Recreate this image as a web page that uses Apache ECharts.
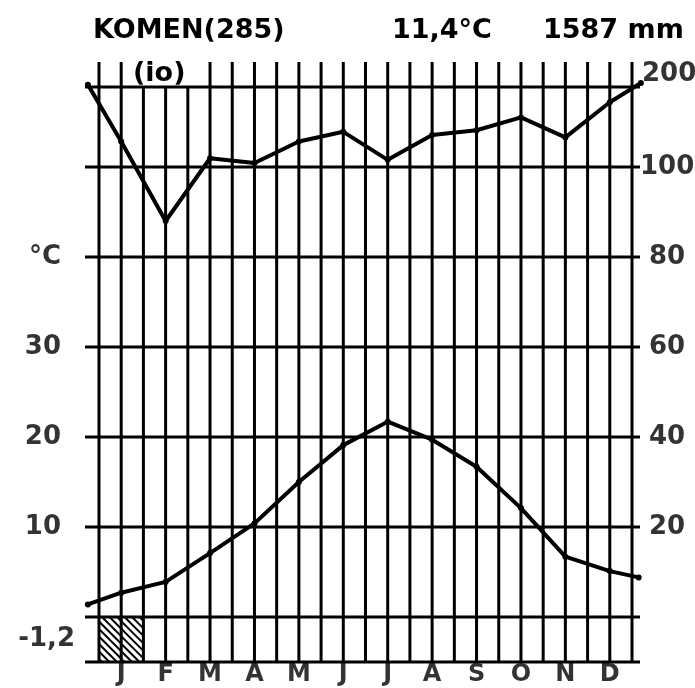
<!DOCTYPE html>
<html>
<head>
<meta charset="utf-8">
<script src="https://cdn.jsdelivr.net/npm/echarts@6/dist/echarts.min.js"></script>
<style>
  html, body { margin: 0; padding: 0; background: #fff; }
  #main { width: 695px; height: 688px; }
</style>
</head>
<body>
<div id="main"></div>
<script>
// Komen (285 m) climate diagram
var months = ['J', 'F', 'M', 'A', 'M', 'J', 'J', 'A', 'S', 'O', 'N', 'D'];
var tempC = [2.7, 3.9, 7.1, 10.4, 15.0, 19.1, 21.7, 19.7, 16.7, 12.1, 6.7, 5.1];
var precipMm = [132, 88, 111, 105, 132, 144, 109, 140, 146, 162, 137, 181];
// the curves run a little past jan and dec
var tempEnds = [1.4, 4.4];
var precipEnds = [203, 205];
var frostMonths = [0];
var tempTicks = [-2.5, 10, 20, 30, 40];
var tempTickLabels = ['-1,2', '10', '20', '30', '°C'];
var precipTicks = [20, 40, 60, 80, 100, 200];

var FONT = 'DejaVu Sans';

// precip -> chart units: 20 mm = 10 °C up to 100 mm, compressed above
function pScale(p) {
  return p <= 100 ? p / 2 : 50 + (p - 100) / 11.25;
}

var yMin = -5, yMax = 61.67;
var xMin = -0.63, xMax = 24.36;

var tempData = [[-0.5, tempEnds[0]]];
tempC.forEach(function (t, i) { tempData.push([2 * i + 1, t]); });
tempData.push([24.3, tempEnds[1]]);

var precipData = [[-0.5, pScale(precipEnds[0])]];
precipMm.forEach(function (p, i) { precipData.push([2 * i + 1, pScale(p)]); });
precipData.push([24.4, pScale(precipEnds[1])]);

// grid: horizontal lines at the scale steps, vertical lines every half month
var gridSegs = [yMin, 0].concat(precipTicks.map(pScale)).map(function (v) {
  return [xMin, v, xMax, v];
});
for (var k = 0; k <= 24; k++) {
  // lines under "(io)" stop at the 200 mm line
  var lineTop = (k >= 2 && k <= 4) ? pScale(200) : yMax;
  gridSegs.push([k, yMin, k, lineTop]);
}

function font(size) {
  return { fontFamily: FONT, fontSize: size, fontWeight: 'bold', color: '#000', textBorderWidth: 0 };
}

var chart = echarts.init(document.getElementById('main'));

chart.setOption({
  animation: false,
  backgroundColor: '#fff',
  title: [
    { text: 'KOMEN(285)', left: 93, top: 17, padding: 0, textStyle: font(27) },
    { text: '11,4°C', left: 392, top: 17, padding: 0, textStyle: font(27) },
    { text: '1587 mm', left: 543, top: 17, padding: 0, textStyle: font(27) },
    { text: '(io)', left: 133, top: 60, padding: 0, textStyle: font(27) }
  ],
  grid: { left: 85, right: 55, top: 62, bottom: 26 },
  xAxis: { type: 'value', min: xMin, max: xMax, show: false },
  yAxis: { type: 'value', min: yMin, max: yMax, show: false },
  series: [
    {
      type: 'custom',
      name: 'grid',
      silent: true,
      data: gridSegs,
      encode: { x: [0, 2], y: [1, 3] },
      renderItem: function (params, api) {
        var a = api.coord([api.value(0), api.value(1)]);
        var b = api.coord([api.value(2), api.value(3)]);
        return {
          type: 'line',
          shape: { x1: a[0], y1: a[1], x2: b[0], y2: b[1] },
          style: { stroke: '#000', lineWidth: 3 }
        };
      }
    },
    {
      type: 'custom',
      name: 'frost',
      silent: true,
      data: frostMonths.map(function (m) { return [m, 0]; }),
      renderItem: function (params, api) {
        var m = api.value(0);
        var p0 = api.coord([2 * m, 0]);
        var p1 = api.coord([2 * m + 2, yMin]);
        var w = p1[0] - p0[0], h = p1[1] - p0[1];
        var lines = [];
        for (var c = -h + 3; c < w; c += 7.5) {
          var ya = Math.max(0, -c), yb = Math.min(h, w - c);
          if (yb <= ya) continue;
          lines.push({
            type: 'line',
            shape: { x1: p0[0] + ya + c, y1: p0[1] + ya, x2: p0[0] + yb + c, y2: p0[1] + yb },
            style: { stroke: '#000', lineWidth: 2 }
          });
        }
        return { type: 'group', children: lines };
      }
    },
    {
      type: 'line',
      name: 'temp',
      data: tempData,
      clip: false,
      symbol: 'circle',
      symbolSize: 6,
      itemStyle: { color: '#000' },
      lineStyle: { color: '#000', width: 4 }
    },
    {
      type: 'line',
      name: 'precip',
      data: precipData,
      clip: false,
      symbol: 'circle',
      symbolSize: 6,
      itemStyle: { color: '#000' },
      lineStyle: { color: '#000', width: 4 }
    },
    {
      // month names under the diagram
      type: 'scatter',
      name: 'months',
      silent: true,
      symbolSize: 0,
      clip: false,
      data: months.map(function (m, i) { return [2 * i + 1, yMin]; }),
      label: Object.assign({
        show: true,
        position: 'bottom',
        distance: 1,
        formatter: function (p) { return months[p.dataIndex]; }
      }, font(24))
    },
    {
      // temperature scale, left
      type: 'scatter',
      name: 'tempAxis',
      silent: true,
      symbolSize: 0,
      clip: false,
      data: tempTicks.map(function (v, i) {
        return i === 0 ? { value: [xMin, v], label: { distance: 10 } } : [xMin, v];
      }),
      label: Object.assign({
        show: true,
        position: 'left',
        distance: 24,
        formatter: function (p) { return tempTickLabels[p.dataIndex]; }
      }, font(26))
    },
    {
      // precipitation scale, right
      type: 'scatter',
      name: 'precipAxis',
      silent: true,
      symbolSize: 0,
      clip: false,
      data: precipTicks.map(function (p) {
        if (p === 200) return { value: [xMax, pScale(p)], label: { distance: 2, offset: [0, -13] } };
        if (p === 100) return { value: [xMax, pScale(p)], label: { distance: 0 } };
        return [xMax, pScale(p)];
      }),
      label: Object.assign({
        show: true,
        position: 'right',
        distance: 9,
        formatter: function (p) { return String(precipTicks[p.dataIndex]); }
      }, font(26))
    }
  ]
});
</script>
</body>
</html>
